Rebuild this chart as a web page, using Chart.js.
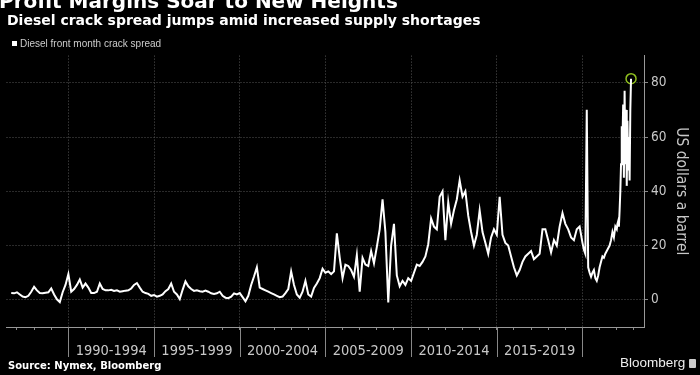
<!DOCTYPE html>
<html>
<head>
<meta charset="utf-8">
<script src="https://cdn.jsdelivr.net/npm/chart.js@4"></script>
<style>
  html, body { margin: 0; padding: 0; background: #000; }
  #wrap { position: relative; width: 700px; height: 375px; overflow: hidden; background: #000; }
  #wrap canvas { position: absolute; left: 0; top: 0; }
  .txt { position: absolute; white-space: nowrap; color: #fff; }
  #title { left: -1px; top: -9px; font: bold 20px/20px 'DejaVu Sans', sans-serif; }
  #subtitle { left: 7px; top: 13px; font: bold 14px/14px 'DejaVu Sans', sans-serif; }
  #legend { left: 12px; top: 38px; font: 10px/12px 'Liberation Sans', Arial, sans-serif; color: #ccc; }
  #legend i { display: inline-block; width: 5px; height: 5px; background: #fff; margin-right: 3px; vertical-align: 1px; }
  #source { left: 8px; top: 360px; font: bold 10px/12px 'DejaVu Sans', sans-serif; }
  #brand { left: 620px; top: 356px; font: 13.5px/14px 'Liberation Sans', Arial, sans-serif; color: #eee; }
  #brand b { display: inline-block; width: 7px; height: 9px; margin-left: 4px; background: #ccc; border-radius: 1px; vertical-align: -1px; }
</style>
</head>
<body>
<div id="wrap">
  <canvas id="crackChart" width="700" height="375"></canvas>
  <div class="txt" id="title">Profit Margins Soar to New Heights</div>
  <div class="txt" id="subtitle">Diesel crack spread jumps amid increased supply shortages</div>
  <div class="txt" id="legend"><i></i>Diesel front month crack spread</div>
  <div class="txt" id="source">Source: Nymex, Bloomberg</div>
  <div class="txt" id="brand">Bloomberg<b></b></div>
</div>
<script>
// crack spread, US$ a barrel (6 points a year unless noted)
const crack1986to1989 = [2.5, 2.4, 2.8, 2.0, 1.2, 1.0, 1.5, 3.0, 4.8, 3.5, 2.5, 2.4, 2.6, 2.8, 4.2, 2.0, 0.2, -0.8, 2.8, 5.5];
const crack1990to1994 = [9.5, 3.0, 4.0, 5.5, 7.5, 4.5, 6.0, 4.5, 2.5, 2.5, 3.0, 6.0, 4.0, 3.5, 3.5, 3.7, 3.3, 3.5, 3.0, 3.2, 3.4, 3.5, 4.2, 5.5, 6.2, 4.5, 3.0, 2.5, 2.2, 1.5];
const crack1995to1999 = [1.8, 1.2, 1.5, 2.0, 3.2, 4.0, 6.0, 3.0, 2.0, 0.3, 3.7, 6.8, 5.0, 4.0, 3.3, 3.5, 3.2, 3.0, 3.4, 3.0, 2.4, 2.2, 2.4, 3.0, 1.5, 0.8, 0.6, 1.2, 2.4, 2.0];
const crack2000to2004 = [2.5, 1.0, -0.5, 1.5, 5.5, 8.6, 12.0, 4.5, 4.0, 3.5, 3.0, 2.5, 2.0, 1.5, 1.0, 1.2, 2.5, 4.0, 10.5, 5.5, 2.0, 0.8, 3.0, 7.0, 2.0, 1.2, 4.4, 6.0, 8.0, 11.5];
const crack2005to2009 = [10.0, 10.5, 9.5, 10.5, 24.5, 15.6, 8.0, 13.0, 12.5, 11.0, 8.5, 16.5, 3.0, 15.5, 13.0, 12.5, 18.0, 13.5, 19.5, 26.0, 37.0, 25.0, -1.0, 20.0, 28.0, 9.0, 5.0, 7.0, 5.5, 8.0];
const crack2010to2014 = [7.0, 10.0, 13.0, 12.5, 14.0, 16.0, 20.5, 30.0, 27.0, 26.0, 38.0, 40.0, 22.0, 36.0, 28.0, 33.0, 37.0, 44.0, 38.0, 40.0, 31.0, 25.0, 20.0, 24.0, 33.0, 25.0, 21.0, 17.0, 23.0, 26.0];
const crack2015to2019 = [24, 38, 24, 21, 20, 16, 12, 9, 11, 14, 16, 17, 18, 15, 16, 17, 26, 26, 22, 17.5, 22, 20, 27, 32, 28, 26, 23, 22, 26, 27];
// monthly for 2020-2021, twice a month for 2022
const crack2020to2021 = [21, 18.5, 17, 70, 12, 10, 8.5, 10, 11, 8, 7, 9, 12, 14, 16, 15.5, 17, 18, 19, 20, 22, 25, 23, 27];
const crack2022 = [26, 28, 29, 27, 33, 40, 50, 64, 58, 72, 45, 77, 50, 70, 42, 66, 48, 60, 44, 70, 81.5];

const periodStarts = [1990, 1995, 2000, 2005, 2010, 2015];
const periodLabels = ['1990-1994', '1995-1999', '2000-2004', '2005-2009', '2010-2014', '2015-2019'];
const yTickValues = [0, 20, 40, 60, 80];
const yearTicks = [];
for (let y = 1987; y <= 2023; y++) yearTicks.push(y);

const narrow = "'Liberation Sans Narrow', 'Arial Narrow', 'DejaVu Sans Condensed', sans-serif";

function toPoints(startYear, perYear, values) {
  return values.map((v, i) => ({ x: startYear + i / perYear, y: v }));
}

const crackSpread = [
  ...toPoints(1986 + 4 / 6, 6, crack1986to1989),
  ...toPoints(1990, 6, crack1990to1994),
  ...toPoints(1995, 6, crack1995to1999),
  ...toPoints(2000, 6, crack2000to2004),
  ...toPoints(2005, 6, crack2005to2009),
  ...toPoints(2010, 6, crack2010to2014),
  ...toPoints(2015, 6, crack2015to2019),
  ...toPoints(2020, 12, crack2020to2021),
  ...toPoints(2022, 24, crack2022)
];
const lastPoint = crackSpread[crackSpread.length - 1];

// long separators and 5-year labels under the x axis
const periodAxis = {
  id: 'periodAxis',
  afterDraw(chart) {
    const { ctx, chartArea } = chart;
    const xs = chart.scales.x;
    const bottom = chartArea.bottom;
    ctx.save();
    ctx.strokeStyle = '#888';
    ctx.lineWidth = 1;
    periodStarts.concat([2020]).forEach(yr => {
      const px = Math.round(xs.getPixelForValue(yr)) + 0.5;
      ctx.beginPath();
      ctx.moveTo(px, bottom);
      ctx.lineTo(px, bottom + 30);
      ctx.stroke();
    });
    ctx.fillStyle = '#c8c8c8';
    ctx.font = '14.5px ' + narrow;
    ctx.textAlign = 'center';
    ctx.textBaseline = 'alphabetic';
    periodLabels.forEach((lab, i) => {
      ctx.fillText(lab, xs.getPixelForValue(periodStarts[i] + 2.5), bottom + 28);
    });
    ctx.restore();
  }
};

new Chart(document.getElementById('crackChart'), {
  type: 'line',
  data: {
    datasets: [
      {
        label: 'Diesel front month crack spread',
        data: crackSpread,
        borderColor: '#fff',
        backgroundColor: '#fff',
        borderWidth: 2,
        pointRadius: 0,
        tension: 0
      },
      {
        label: 'latest',
        data: [lastPoint],
        showLine: false,
        pointRadius: 5,
        pointBorderColor: '#8fbf1f',
        pointBorderWidth: 1.5,
        pointBackgroundColor: 'transparent'
      }
    ]
  },
  options: {
    responsive: false,
    animation: false,
    layout: { padding: { top: 55.6, right: 4, bottom: 45, left: 0 } },
    plugins: {
      legend: { display: false },
      tooltip: { enabled: false }
    },
    scales: {
      x: {
        type: 'linear',
        min: 1986.39,
        max: 2023.59,
        afterBuildTicks: s => { s.ticks = yearTicks.map(v => ({ value: v })); },
        ticks: { display: false },
        grid: {
          color: c => (c.tick && c.tick.value % 5 === 0) ? '#555' : 'transparent',
          tickLength: 3,
          tickColor: '#888'
        },
        border: { color: '#999', dash: [1, 2] }
      },
      y: {
        position: 'right',
        min: -10,
        max: 90,
        afterBuildTicks: s => { s.ticks = yTickValues.map(v => ({ value: v })); },
        afterFit: s => { s.width = 52; },
        ticks: { color: '#c8c8c8', font: { family: narrow, size: 13.5 }, padding: 3 },
        grid: { color: '#555', tickLength: 4, tickColor: '#888' },
        border: { color: '#999', dash: [1, 2] },
        title: {
          display: true,
          text: 'US dollars a barrel',
          color: '#c8c8c8',
          font: { family: narrow, size: 15.5 },
          padding: { top: 6, bottom: 0 }
        }
      }
    }
  },
  plugins: [periodAxis]
});
</script>
</body>
</html>
